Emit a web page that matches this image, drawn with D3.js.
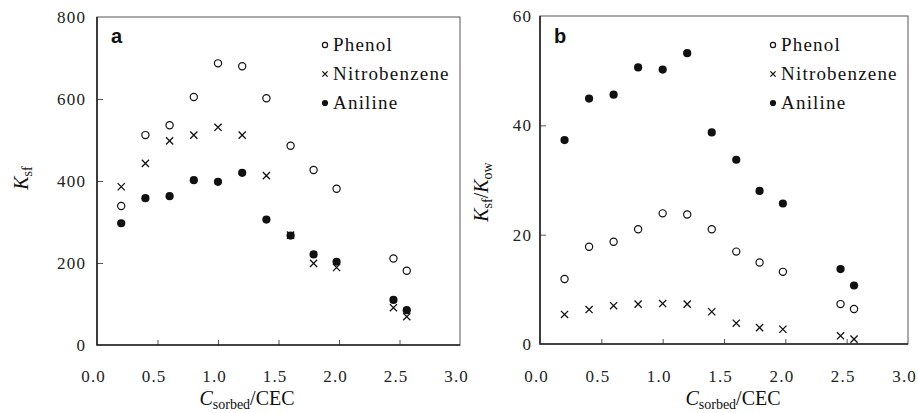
<!DOCTYPE html>
<html>
<head>
<meta charset="utf-8">
<script src="https://cdn.jsdelivr.net/npm/d3@7"></script>
<style>
  body { margin: 0; background: #fff; }
  svg { display: block; }
</style>
</head>
<body>
<div id="chart"></div>
<script>
const width = 918, height = 413;
const serif = "'Liberation Serif', 'DejaVu Serif', serif";

// concentration of sorbed cation / CEC
const xVals = [0.2, 0.4, 0.6, 0.8, 1.0, 1.2, 1.4, 1.6, 1.79, 1.98, 2.45, 2.56];

// panel a: Ksf
const phenolKsf = [339, 512, 536, 605, 687, 680, 602, 486, 427, 381, 211, 181];
const nitroKsf = [386, 443, 498, 512, 531, 512, 413, 268, 199, 189, 91, 69];
const anilineKsf = [297, 358, 363, 402, 398, 420, 306, 267, 221, 203, 110, 85];

// panel b: Ksf/Kow
const phenolRatio = [11.9, 17.8, 18.7, 21.0, 23.9, 23.7, 21.0, 16.9, 14.9, 13.2, 7.3, 6.4];
const nitroRatio = [5.4, 6.3, 7.0, 7.3, 7.4, 7.3, 5.9, 3.8, 3.0, 2.7, 1.5, 0.9];
const anilineRatio = [37.3, 44.9, 45.6, 50.6, 50.2, 53.2, 38.7, 33.7, 28.0, 25.7, 13.7, 10.7];

const xTicks = [0, 0.5, 1.0, 1.5, 2.0, 2.5, 3.0];
const yTicksA = [0, 200, 400, 600, 800];
const yTicksB = [0, 20, 40, 60];
const seriesNames = ["Phenol", "Nitrobenzene", "Aniline"];
const markers = ["open", "cross", "filled"];

const svg = d3.select("#chart").append("svg")
  .attr("width", width)
  .attr("height", height);

function drawMarker(g, type, cx, cy, r) {
  if (type === "open") {
    g.append("circle").attr("cx", cx).attr("cy", cy).attr("r", r)
      .attr("fill", "#fff").attr("stroke", "#111").attr("stroke-width", 1.2);
  } else if (type === "filled") {
    g.append("circle").attr("cx", cx).attr("cy", cy).attr("r", r + 0.5)
      .attr("fill", "#111");
  } else {
    g.append("path")
      .attr("d", `M${cx - r},${cy - r}L${cx + r},${cy + r}M${cx - r},${cy + r}L${cx + r},${cy - r}`)
      .attr("stroke", "#111").attr("stroke-width", 1.3).attr("fill", "none");
  }
}

// spaced-out serif label, widened with textLength
function spacedText(g, str, size, x, y, anchor) {
  const t = g.append("text")
    .attr("font-family", serif)
    .attr("font-size", size)
    .attr("fill", "#222")
    .attr("x", x).attr("y", y)
    .attr("text-anchor", anchor)
    .text(str);
  const w = t.node().getComputedTextLength();
  t.attr("textLength", w + 1.2 * (str.length - 1)).attr("lengthAdjust", "spacing");
  return t;
}

function panel(opt) {
  const g = svg.append("g");
  const x = d3.scaleLinear().domain([0, 3]).range(opt.xRange);
  const y = d3.scaleLinear().domain(opt.yDomain).range(opt.yRange);
  const [x0, x1] = opt.xRange;
  const [y0, y1] = opt.yRange;

  // frame (top and right lighter)
  g.append("rect")
    .attr("x", x0).attr("y", y1)
    .attr("width", x1 - x0).attr("height", y0 - y1)
    .attr("fill", "none").attr("stroke", "#555").attr("stroke-width", 1);

  // x axis, ticks pointing inside
  const xAxis = g.append("g")
    .attr("transform", `translate(0,${y0})`)
    .call(d3.axisTop(x).tickValues(xTicks.filter(t => t > 0 && t < 3)).tickSize(5).tickFormat("").tickSizeOuter(0));
  xAxis.select(".domain").remove();
  xAxis.selectAll("line").attr("stroke", "#555");

  xTicks.forEach(d => spacedText(g, d.toFixed(1), 17, x(d) - 4, 382, "middle"));

  // y axis
  const yAxis = g.append("g")
    .attr("transform", `translate(${x0},0)`)
    .call(d3.axisRight(y).tickValues(opt.yTicks.filter(t => t > opt.yDomain[0] && t < opt.yDomain[1])).tickSize(6).tickFormat("").tickSizeOuter(0));
  yAxis.select(".domain").remove();
  yAxis.selectAll("line").attr("stroke", "#555");

  opt.yTicks.forEach(d => spacedText(g, String(d), 17, x0 - opt.yLabGap, y(d) + 6, "end"));

  // darker left and bottom axis lines
  g.append("path")
    .attr("d", `M${x0},${y1}V${y0}H${x1}`)
    .attr("fill", "none").attr("stroke", "#222").attr("stroke-width", 1.6);

  // points
  opt.series.forEach((vals, i) => {
    const type = markers[i];
    vals.forEach((v, j) => drawMarker(g, type, x(xVals[j]), y(v), 3.6));
  });

  // panel letter
  g.append("text")
    .attr("font-family", "'Liberation Sans', Arial, sans-serif")
    .attr("font-size", 20).attr("font-weight", "bold").attr("fill", "#111")
    .attr("x", x0 + 14).attr("y", 43)
    .text(opt.tag);

  // legend
  seriesNames.forEach((name, i) => {
    const ly = 45 + i * 29;
    drawMarker(g, markers[i], opt.legX, ly, 2.6);
    spacedText(g, name, 19, opt.legX + 8, ly + 6, "start").attr("fill", "#111");
  });

  // x title
  const xt = g.append("text")
    .attr("font-family", serif).attr("font-size", 20).attr("fill", "#111")
    .attr("x", opt.xTitleX).attr("y", 405)
    .attr("text-anchor", "middle");
  xt.append("tspan").attr("font-style", "italic").text("C");
  xt.append("tspan").attr("font-size", 14).attr("dy", 4).text("sorbed");
  xt.append("tspan").attr("dy", -4).text("/CEC");

  // y title
  const yt = g.append("text")
    .attr("font-family", serif).attr("font-size", 20).attr("fill", "#111")
    .attr("transform", `translate(${opt.yTitle[0]},${opt.yTitle[1]}) rotate(-90)`)
    .attr("text-anchor", "middle");
  opt.yTitleParts.forEach(p => {
    yt.append("tspan")
      .attr("font-style", p.italic ? "italic" : null)
      .attr("font-size", p.sub ? 14 : null)
      .attr("dy", p.dy)
      .text(p.t);
  });
}

panel({
  xRange: [97, 460],
  yDomain: [0, 800],
  yRange: [345, 17],
  yTicks: yTicksA,
  yLabGap: 12,
  series: [phenolKsf, nitroKsf, anilineKsf],
  tag: "a",
  legX: 325,
  xTitleX: 247,
  yTitle: [28, 178],
  yTitleParts: [{ t: "K", italic: true, dy: 0 }, { t: "sf", sub: true, dy: 4 }]
});

panel({
  xRange: [540, 908],
  yDomain: [0, 60],
  yRange: [344, 16],
  yTicks: yTicksB,
  yLabGap: 9,
  series: [phenolRatio, nitroRatio, anilineRatio],
  tag: "b",
  legX: 773,
  xTitleX: 733,
  yTitle: [488, 192],
  yTitleParts: [
    { t: "K", italic: true, dy: 0 }, { t: "sf", sub: true, dy: 4 },
    { t: "/", dy: -4 }, { t: "K", italic: true, dy: 0 }, { t: "ow", sub: true, dy: 4 }
  ]
});
</script>
</body>
</html>
